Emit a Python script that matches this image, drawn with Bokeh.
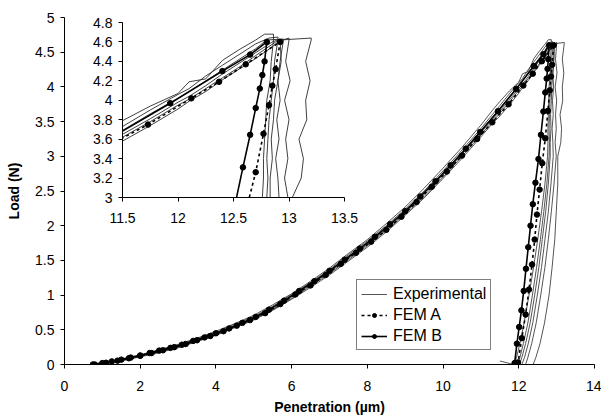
from bokeh.plotting import figure
from bokeh.layouts import column
from bokeh.models import Range1d, FixedTicker, CustomJSTickFormatter, Legend, LegendItem
from bokeh.embed import file_html
from bokeh.resources import INLINE

FONT = "Liberation Sans"

# ---------------- data ----------------
x_ticks_main = [0, 2, 4, 6, 8, 10, 12, 14]
y_ticks_main = [0, 0.5, 1, 1.5, 2, 2.5, 3, 3.5, 4, 4.5, 5]
x_ticks_inset = [11.5, 12, 12.5, 13, 13.5]
y_ticks_inset = [3, 3.2, 3.4, 3.6, 3.8, 4, 4.2, 4.4, 4.6, 4.8]

fem_a_x = [0.8, 1.1, 1.4, 1.7, 2.0, 2.3, 2.6, 2.9, 3.2, 3.5, 3.85, 4.2, 4.55, 4.9, 5.3, 5.7,
           6.1, 6.5, 6.9, 7.3, 7.7, 8.1, 8.5, 8.9, 9.3, 9.7, 10.1, 10.5, 10.9, 11.3, 11.73,
           12.12, 12.37, 12.61, 12.92,
           12.88, 12.85, 12.82, 12.77, 12.70, 12.62, 12.55, 12.48, 12.42, 12.35, 12.27,
           12.18, 12.08, 11.98]
fem_a_y = [0.0, 0.025, 0.055, 0.09, 0.125, 0.165, 0.205, 0.25, 0.295, 0.35, 0.41, 0.48, 0.56,
           0.64, 0.74, 0.87, 1.01, 1.14, 1.29, 1.45, 1.61, 1.77, 1.94, 2.13, 2.34, 2.56, 2.78,
           3.01, 3.25, 3.49, 3.75, 4.02, 4.19, 4.37, 4.60,
           4.32, 4.15, 3.95, 3.655, 3.26, 2.90, 2.52, 2.16, 1.80, 1.44, 1.08, 0.72, 0.38, 0.03]

fem_b_x = [0.75, 1.0, 1.25, 1.5, 1.75, 2.0, 2.25, 2.5, 2.8, 3.1, 3.4, 3.7, 4.0, 4.35, 4.7,
           5.05, 5.4, 5.8, 6.2, 6.6, 7.0, 7.4, 7.8, 8.2, 8.6, 9.0, 9.4, 9.8, 10.2, 10.6,
           10.98, 11.45, 11.93, 12.40, 12.65, 12.80,
           12.78, 12.76, 12.737, 12.70, 12.65, 12.585, 12.52, 12.44, 12.37, 12.31, 12.25,
           12.19, 12.13, 12.07, 12.01, 11.95, 11.89]
fem_b_y = [0.0, 0.02, 0.045, 0.07, 0.10, 0.13, 0.165, 0.20, 0.24, 0.285, 0.34, 0.39, 0.45,
           0.52, 0.60, 0.685, 0.79, 0.92, 1.06, 1.20, 1.35, 1.51, 1.67, 1.84, 2.02, 2.21,
           2.42, 2.64, 2.87, 3.11, 3.35, 3.65, 3.97, 4.30, 4.47, 4.60,
           4.40, 4.26, 4.12, 3.92, 3.645, 3.31, 2.96, 2.62, 2.31, 2.0, 1.69, 1.38, 1.06,
           0.78, 0.54, 0.30, 0.02]

exp_load_x = [0.7, 1.0, 1.5, 2.0, 2.5, 3.0, 3.5, 4.0, 4.5, 5.0, 5.5, 6.0, 6.5, 7.0, 7.5, 8.0,
              8.5, 9.0, 9.5, 10.0, 10.5, 11.0, 11.3, 11.5, 11.75, 12.0, 12.1, 12.25, 12.4,
              12.55, 12.7]
exp1_load = [0.0, 0.03, 0.08, 0.14, 0.21, 0.29, 0.38, 0.48, 0.59, 0.71, 0.86, 1.02, 1.20, 1.39,
             1.60, 1.80, 2.03, 2.27, 2.54, 2.83, 3.13, 3.45, 3.66, 3.79, 3.94, 4.07, 4.19, 4.22,
             4.41, 4.52, 4.62]
exp2_load = [0.0, 0.02, 0.07, 0.13, 0.21, 0.28, 0.37, 0.46, 0.58, 0.69, 0.84, 1.01, 1.18, 1.37,
             1.58, 1.78, 2.00, 2.24, 2.50, 2.79, 3.09, 3.40, 3.60, 3.73, 3.90, 4.06, 4.12, 4.25,
             4.36, 4.47, 4.58]
exp3_load = [0.0, 0.02, 0.07, 0.13, 0.20, 0.27, 0.36, 0.45, 0.56, 0.68, 0.82, 0.99, 1.17, 1.35,
             1.56, 1.76, 1.98, 2.22, 2.48, 2.76, 3.06, 3.37, 3.56, 3.69, 3.86, 4.02, 4.09, 4.20,
             4.31, 4.42, 4.53]
exp4_load = [0.0, 0.02, 0.06, 0.12, 0.19, 0.26, 0.35, 0.44, 0.55, 0.66, 0.80, 0.97, 1.15, 1.33,
             1.53, 1.73, 1.95, 2.19, 2.45, 2.73, 3.03, 3.34, 3.53, 3.65, 3.81, 3.98, 4.04, 4.15,
             4.27, 4.38, 4.49]
exp5_load = [0.0, 0.01, 0.06, 0.12, 0.18, 0.25, 0.34, 0.43, 0.54, 0.65, 0.79, 0.95, 1.13, 1.31,
             1.51, 1.71, 1.93, 2.17, 2.42, 2.70, 3.00, 3.31, 3.50, 3.62, 3.78, 3.95, 4.01, 4.12,
             4.23, 4.34, 4.46]
exp6_load = [0.0, 0.01, 0.05, 0.11, 0.17, 0.24, 0.33, 0.42, 0.53, 0.64, 0.78, 0.94, 1.11, 1.29,
             1.49, 1.69, 1.91, 2.15, 2.40, 2.68, 2.97, 3.28, 3.47, 3.58, 3.74, 3.91, 3.99, 4.09,
             4.21, 4.32, 4.43]

exp1_peak_x = [12.78, 12.86]
exp1_peak_y = [4.68, 4.68]
exp2_peak_x = [12.82, 12.90]
exp2_peak_y = [4.64, 4.65]
exp3_peak_x = [12.80, 12.95]
exp3_peak_y = [4.62, 4.63]
exp4_peak_x = [12.85, 12.92]
exp4_peak_y = [4.60, 4.63]
exp5_peak_x = [12.88, 13.00]
exp5_peak_y = [4.60, 4.64]
exp6_peak_x = [12.85, 12.92, 13.20]
exp6_peak_y = [4.55, 4.62, 4.64]

exp_unload_y = [4.62, 4.4, 4.2, 4.0, 3.8, 3.6, 3.4, 3.2, 3.0, 2.6, 2.2, 1.8, 1.4, 1.0, 0.6,
                0.3, 0.1, 0.0]
exp1_unload = [12.86, 12.84, 12.83, 12.80, 12.79, 12.78, 12.77, 12.77, 12.76, 12.69, 12.60,
               12.50, 12.39, 12.27, 12.14, 12.03, 11.94, 11.87]
exp2_unload = [12.90, 12.87, 12.86, 12.84, 12.82, 12.81, 12.80, 12.81, 12.80, 12.74, 12.66,
               12.57, 12.47, 12.36, 12.24, 12.12, 12.03, 11.97]
exp3_unload = [12.95, 12.92, 12.90, 12.87, 12.86, 12.84, 12.85, 12.83, 12.83, 12.78, 12.71,
               12.62, 12.53, 12.42, 12.30, 12.18, 12.08, 12.02]
exp4_unload = [12.92, 12.93, 12.90, 12.92, 12.89, 12.91, 12.88, 12.90, 12.91, 12.85, 12.78,
               12.69, 12.60, 12.49, 12.37, 12.25, 12.15, 12.08]
exp5_unload = [13.00, 12.97, 13.01, 12.96, 13.00, 12.97, 12.99, 12.96, 12.99, 12.93, 12.86,
               12.78, 12.69, 12.58, 12.46, 12.34, 12.24, 12.18]
exp6_unload = [13.20, 13.15, 13.19, 13.15, 13.16, 13.09, 13.13, 13.11, 13.03, 13.03, 12.99,
               12.95, 12.88, 12.80, 12.68, 12.56, 12.45, 12.38]
exp1_tail_x = [11.5]
exp1_tail_y = [0.05]

exp_curves = [
    (exp1_load, exp1_peak_x, exp1_peak_y, exp1_unload, exp1_tail_x, exp1_tail_y),
    (exp2_load, exp2_peak_x, exp2_peak_y, exp2_unload, [], []),
    (exp3_load, exp3_peak_x, exp3_peak_y, exp3_unload, [], []),
    (exp4_load, exp4_peak_x, exp4_peak_y, exp4_unload, [], []),
    (exp5_load, exp5_peak_x, exp5_peak_y, exp5_unload, [], []),
    (exp6_load, exp6_peak_x, exp6_peak_y, exp6_unload, [], []),
]

fmt_code = "return String(parseFloat(tick.toFixed(2)));"


def style_axes(fig, xt, yt):
    fig.outline_line_color = None
    fig.xgrid.visible = False
    fig.ygrid.visible = False
    fig.background_fill_color = "white"
    fig.border_fill_color = "white"
    fig.frame_align = False
    fig.xaxis.ticker = FixedTicker(ticks=xt)
    fig.yaxis.ticker = FixedTicker(ticks=yt)
    for ax in (fig.xaxis[0], fig.yaxis[0]):
        ax.formatter = CustomJSTickFormatter(code=fmt_code)
        ax.major_tick_out = 4
        ax.major_tick_in = 0
        ax.minor_tick_out = 0
        ax.minor_tick_in = 0
        ax.axis_line_color = "black"
        ax.axis_line_width = 1
        ax.major_tick_line_color = "black"
        ax.major_label_text_font = FONT
        ax.major_label_text_font_size = "14px"
        ax.major_label_text_color = "black"
        ax.axis_label_text_font = FONT
        ax.axis_label_text_font_style = "bold"
        ax.axis_label_text_font_size = "14px"
        ax.axis_label_text_color = "black"


def draw(fig, exp_w, fem_w):
    exp_r = None
    for load, pkx, pky, unl, tx, ty in exp_curves:
        xs = exp_load_x + pkx + unl + tx
        ys = load + pky + exp_unload_y + ty
        r = fig.line(xs, ys, line_color="#2a2a2a", line_width=exp_w)
        if exp_r is None:
            exp_r = r
    fa_l = fig.line(fem_a_x, fem_a_y, line_color="black", line_width=fem_w, line_dash="3 3")
    fa_p = fig.scatter(fem_a_x, fem_a_y, marker="circle", size=5.5, fill_color="black",
                       line_color="black")
    fb_l = fig.line(fem_b_x, fem_b_y, line_color="black", line_width=fem_w)
    fb_p = fig.scatter(fem_b_x, fem_b_y, marker="circle", size=5.5, fill_color="black",
                       line_color="black")
    return exp_r, fa_l, fa_p, fb_l, fb_p


# ---------------- main figure ----------------
p = figure(width=601, height=418, x_range=Range1d(0, 14), y_range=Range1d(0, 5),
           output_backend="svg", toolbar_location=None,
           min_border_left=64, min_border_right=7, min_border_top=17, min_border_bottom=54)
style_axes(p, x_ticks_main, y_ticks_main)
p.xaxis.axis_label = "Penetration (µm)"
p.yaxis.axis_label = "Load (N)"
p.xaxis.major_label_standoff = 12
p.xaxis.axis_label_standoff = 5
p.yaxis.major_label_standoff = 6
p.yaxis.axis_label_standoff = 10

exp_r, fa_l, fa_p, fb_l, fb_p = draw(p, 0.8, 1.6)

legend = Legend(items=[LegendItem(label="Experimental", renderers=[exp_r]),
                       LegendItem(label="FEM A", renderers=[fa_l, fa_p]),
                       LegendItem(label="FEM B", renderers=[fb_l, fb_p])],
                location=(292, 14))
legend.border_line_color = "black"
legend.border_line_width = 1
legend.background_fill_color = "white"
legend.background_fill_alpha = 1
legend.label_text_font = FONT
legend.label_text_font_size = "16px"
legend.label_text_color = "black"
legend.glyph_width = 26
legend.glyph_height = 10
legend.label_height = 19
legend.label_standoff = 6
legend.padding = 4
legend.spacing = 2
legend.margin = 0
p.add_layout(legend, "center")

# ---------------- inset figure ----------------
q = figure(width=274, height=215, x_range=Range1d(11.5, 13.5), y_range=Range1d(3, 4.8),
           output_backend="svg", toolbar_location=None,
           min_border_left=36, min_border_right=16, min_border_top=8, min_border_bottom=32)
style_axes(q, x_ticks_inset, y_ticks_inset)
q.xaxis.major_label_standoff = 11
q.yaxis.major_label_standoff = 6
draw(q, 0.9, 1.6)

q.margin = (-404, 0, 189, 86)

layout = column(p, q)
layout.spacing = 0

open("out.html", "w").write(file_html(layout, INLINE))
